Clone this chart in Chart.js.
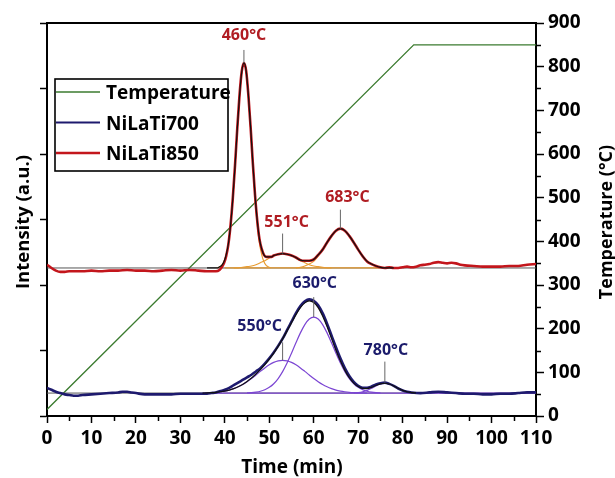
<!DOCTYPE html>
<html>
<head>
<meta charset="utf-8">
<script src="https://cdn.jsdelivr.net/npm/chart.js@4.4.1/dist/chart.umd.min.js"></script>
<style>
  html, body { margin: 0; padding: 0; background: #fff; }
  #wrap { width: 615px; height: 478px; }
</style>
</head>
<body>
<div id="wrap"><canvas id="tpr" width="615" height="478"></canvas></div>
<script>
// TPR profiles: time (min) vs intensity (a.u.), temperature programme on the right axis
const tempProgram = [[0, 15], [82.5, 850], [110, 850]];

const niLaTi850 = [
  [0,2.31],[1,2.26],[2,2.22],[3,2.20],[4,2.20],[5,2.21],[6,2.21],[8,2.21],[10,2.22],[12,2.21],
  [14,2.22],[16,2.22],[18,2.23],[20,2.22],[22,2.22],[24,2.21],[26,2.22],[28,2.23],[30,2.22],[32,2.23],
  [34,2.22],[36,2.21],[37,2.21],[38,2.21],[38.8,2.23],[39.3,2.27],[39.8,2.33],[40.3,2.44],[40.8,2.62],[41.3,2.92],
  [41.8,3.33],[42.3,3.83],[42.8,4.39],[43.3,4.89],[43.8,5.26],[44.3,5.39],[44.8,5.27],[45.3,4.90],[45.8,4.41],[46.3,3.86],
  [46.8,3.37],[47.3,2.98],[47.8,2.70],[48.3,2.55],[48.8,2.46],[49.3,2.43],[49.8,2.43],[50.5,2.43],[51,2.45],[52,2.47],
  [53,2.48],[54,2.47],[55,2.45],[56,2.42],[57,2.38],[58,2.37],[59,2.37],[60,2.39],[61,2.46],[62,2.54],
  [63,2.65],[64,2.75],[65,2.83],[66,2.86],[67,2.83],[68,2.75],[69,2.65],[70,2.54],[71,2.44],[72,2.36],
  [73,2.32],[74,2.29],[75,2.27],[76,2.26],[77,2.27],[78,2.26],[79,2.26],[80,2.27],[81,2.28],[82,2.27],
  [83,2.28],[84,2.30],[85,2.31],[86,2.32],[87,2.34],[88,2.35],[89,2.34],[90,2.33],[91,2.34],[92,2.33],
  [93,2.31],[94,2.30],[96,2.29],[98,2.28],[100,2.28],[102,2.28],[104,2.29],[106,2.29],[108,2.31],[110,2.32]
];

const niLaTi700 = [
  [0,0.43],[1,0.40],[2,0.37],[3,0.35],[4,0.33],[5,0.32],[6,0.31],[7,0.31],[8,0.32],[10,0.33],
  [12,0.34],[14,0.35],[16,0.36],[17,0.37],[18,0.37],[19,0.36],[20,0.35],[22,0.33],[24,0.33],[26,0.33],
  [28,0.33],[30,0.34],[32,0.34],[34,0.34],[36,0.34],[37,0.35],[38,0.36],[39,0.38],[40,0.40],[41,0.43],
  [42,0.47],[43,0.51],[44,0.55],[45,0.59],[46,0.63],[47,0.68],[48,0.73],[49,0.80],[50,0.88],[51,0.97],
  [52,1.07],[53,1.18],[54,1.31],[55,1.44],[56,1.57],[57,1.68],[58,1.75],[59,1.78],[60,1.76],[61,1.69],
  [62,1.57],[63,1.41],[64,1.23],[65,1.05],[66,0.88],[67,0.73],[68,0.61],[69,0.52],[70,0.46],[71,0.43],
  [72,0.43],[73,0.45],[74,0.48],[75,0.50],[76,0.51],[77,0.49],[78,0.46],[79,0.42],[80,0.39],[81,0.37],
  [82,0.36],[84,0.35],[86,0.36],[88,0.37],[90,0.36],[92,0.35],[94,0.34],[96,0.34],[98,0.33],[100,0.33],
  [102,0.34],[104,0.34],[106,0.35],[108,0.36],[110,0.36]
];

// deconvolution of NiLaTi850 (baseline 2.26)
const base850 = [[0,2.26],[110,2.26]];
const fitBase850 = [[40,2.26],[75,2.26]];
const fit850Sum = [
  [36,2.26],[38.3,2.26],[38.8,2.277],[39.3,2.30],[39.8,2.354],[40.3,2.46],[40.8,2.63],[41.3,2.92],[41.8,3.32],[42.3,3.82],
  [42.8,4.38],[43.3,4.88],[43.8,5.25],[44.3,5.39],[44.8,5.27],[45.3,4.90],[45.8,4.41],[46.3,3.86],[46.8,3.37],[47.3,2.98],
  [47.8,2.70],[48.3,2.55],[48.8,2.46],[49.3,2.43],[49.8,2.43],[50.5,2.43],[51,2.45],[52,2.47],[53,2.48],[54,2.47],
  [55,2.45],[56,2.42],[57,2.38],[58,2.37],[59,2.37],[60,2.39],[61,2.46],[62,2.54],[63,2.65],[64,2.75],
  [65,2.83],[66,2.86],[67,2.83],[68,2.75],[69,2.65],[70,2.54],[71,2.44],[72,2.36],[73,2.32],[74,2.29],
  [75,2.27],[76,2.26],[78,2.26]
];
const fit850Peak1 = [
  [38.3,2.26],[38.8,2.277],[39.3,2.30],[39.8,2.354],[40.3,2.46],[40.8,2.63],[41.3,2.92],[41.8,3.32],[42.3,3.82],[42.8,4.38],
  [43.3,4.88],[43.8,5.25],[44.3,5.38],[44.8,5.25],[45.3,4.88],[45.8,4.38],[46.3,3.82],[46.8,3.32],[47.3,2.92],[47.8,2.63],
  [48.3,2.46],[48.8,2.354],[49.3,2.30],[49.8,2.277],[50.3,2.26]
];
const fit850Peak2 = [
  [42,2.26],[43,2.26],[44,2.27],[45,2.28],[46,2.29],[47,2.31],[48,2.34],[49,2.37],[50,2.41],[51,2.45],
  [52,2.47],[53,2.48],[54,2.47],[55,2.45],[56,2.41],[57,2.37],[58,2.34],[59,2.31],[60,2.29],[61,2.28],
  [62,2.27],[63,2.26],[64,2.26]
];
const fit850Peak3 = [
  [56,2.26],[57,2.27],[58,2.29],[59,2.32],[60,2.36],[61,2.44],[62,2.54],[63,2.65],[64,2.75],[65,2.83],
  [66,2.86],[67,2.83],[68,2.75],[69,2.65],[70,2.54],[71,2.44],[72,2.36],[73,2.32],[74,2.29],[75,2.27],[76,2.26]
];

// deconvolution of NiLaTi700 (baseline 0.35)
const base700 = [[0,0.35],[110,0.35]];
const fitBase700 = [[38,0.35],[110,0.35]];
const fit700Sum = [
  [35,0.35],[36,0.354],[37,0.357],[38,0.362],[39,0.37],[40,0.381],[41,0.396],[42,0.418],[43,0.446],[44,0.481],
  [45,0.527],[46,0.579],[47,0.641],[48,0.709],[49,0.785],[50,0.869],[51,0.961],[52,1.064],[53,1.177],[54,1.300],
  [55,1.426],[56,1.548],[57,1.653],[58,1.727],[59,1.757],[60,1.732],[61,1.655],[62,1.527],[63,1.365],[64,1.185],
  [65,1.004],[66,0.839],[67,0.697],[68,0.584],[69,0.503],[70,0.45],[71,0.423],[72,0.42],[73,0.438],[74,0.466],
  [75,0.491],[76,0.50],[77,0.488],[78,0.459],[79,0.423],[80,0.392],[81,0.37],[82,0.358],[83,0.353]
];
const fit700Peak1 = [
  [35,0.35],[36,0.354],[37,0.357],[38,0.362],[39,0.37],[40,0.381],[41,0.396],[42,0.418],[43,0.446],[44,0.481],
  [45,0.524],[46,0.572],[47,0.626],[48,0.681],[49,0.734],[50,0.781],[51,0.818],[52,0.842],[53,0.850],[54,0.842],
  [55,0.818],[56,0.781],[57,0.734],[58,0.681],[59,0.626],[60,0.572],[61,0.524],[62,0.481],[63,0.446],[64,0.418],
  [65,0.396],[66,0.381],[67,0.37],[68,0.362],[69,0.357],[70,0.354],[71,0.352],[72,0.35]
];
const fit700Peak2 = [
  [45,0.353],[46,0.357],[47,0.365],[48,0.378],[49,0.401],[50,0.438],[51,0.493],[52,0.572],[53,0.677],[54,0.808],
  [55,0.958],[56,1.117],[57,1.269],[58,1.396],[59,1.481],[60,1.510],[61,1.481],[62,1.396],[63,1.269],[64,1.117],
  [65,0.958],[66,0.808],[67,0.677],[68,0.572],[69,0.493],[70,0.438],[71,0.401],[72,0.378],[73,0.365],[74,0.357],[75,0.353]
];
const fit700Peak3 = [
  [69,0.353],[70,0.358],[71,0.37],[72,0.392],[73,0.423],[74,0.459],[75,0.488],[76,0.50],[77,0.488],[78,0.459],
  [79,0.423],[80,0.392],[81,0.37],[82,0.358],[83,0.353]
];

// peak maxima labels
const peakLabels850 = ['460°C', '551°C', '683°C'];
const peakTimes850 = [44.3, 53, 66];
const peakTops850 = [5.39, 2.48, 2.86];
const peakLabels700 = ['550°C', '630°C', '780°C'];
const peakTimes700 = [53, 60, 76];
const peakTops700 = [0.85, 1.51, 0.51];

// marker stem length / label offsets, px
const markStyle850 = [{len: 13, dx: 0, gap: 14.5}, {len: 20, dx: 4, gap: 11}, {len: 19, dx: 7, gap: 12.5}];
const markStyle700 = [{len: 18, dx: -23, gap: 16}, {len: 20, dx: 1, gap: 13.5}, {len: 21, dx: 1, gap: 11.5}];

const FONT = '"Open Sans", "DejaVu Sans", sans-serif';
const RED = '#c3161c';
const NAVY = '#1e1a6e';
const GREEN = '#3b7b2f';
const ORANGE = '#e89b2e';
const PURPLE = '#7b45d3';

const pts = arr => arr.map(([x, y]) => ({x, y}));

function line(data, color, width, axis) {
  return {
    data: pts(data),
    borderColor: color,
    backgroundColor: color,
    borderWidth: width,
    pointRadius: 0,
    fill: false,
    cubicInterpolationMode: 'monotone',
    yAxisID: axis || 'y'
  };
}

// first dataset is painted on top
const datasets = [
  line(fit850Sum, '#111', 1.2),
  line(fit700Sum, '#111', 1.2),
  Object.assign(line(niLaTi850, RED, 2.6), {label: 'NiLaTi850'}),
  Object.assign(line(niLaTi700, NAVY, 2.6), {label: 'NiLaTi700'}),
  line(fit850Peak1, ORANGE, 1.1),
  line(fit850Peak2, ORANGE, 1.1),
  line(fit850Peak3, ORANGE, 1.1),
  line(fitBase850, ORANGE, 1.2),
  line(fit700Peak1, PURPLE, 1.2),
  line(fit700Peak2, PURPLE, 1.2),
  line(fit700Peak3, PURPLE, 1.2),
  line(fitBase700, PURPLE, 1.2),
  line(base850, '#555', 1),
  line(base700, '#555', 1),
  Object.assign(line(tempProgram, GREEN, 1.3, 'yT'), {label: 'Temperature', cubicInterpolationMode: 'default', tension: 0})
];

const legendItems = [
  {text: 'Temperature', color: GREEN, width: 1.5},
  {text: 'NiLaTi700', color: NAVY, width: 2},
  {text: 'NiLaTi850', color: RED, width: 2.5}
];

const decorations = {
  id: 'decorations',
  afterDatasetsDraw(chart) {
    const {ctx, scales: {x, y}} = chart;
    ctx.save();
    ctx.font = 'bold 16px ' + FONT;
    ctx.textAlign = 'center';
    ctx.textBaseline = 'middle';
    const marks = (labels, times, tops, style, color) => {
      labels.forEach((lab, i) => {
        const px = x.getPixelForValue(times[i]);
        const py = y.getPixelForValue(tops[i]);
        const s = style[i];
        ctx.strokeStyle = '#666';
        ctx.lineWidth = 1;
        ctx.beginPath();
        ctx.moveTo(px, py);
        ctx.lineTo(px, py - s.len);
        ctx.stroke();
        ctx.fillStyle = color;
        ctx.fillText(lab, px + s.dx, py - s.len - s.gap);
      });
    };
    marks(peakLabels850, peakTimes850, peakTops850, markStyle850, '#b01c22');
    marks(peakLabels700, peakTimes700, peakTops700, markStyle700, '#1b1b6b');
    ctx.restore();
  },
  afterDraw(chart) {
    const {ctx, chartArea: a, scales: {x, yT}} = chart;
    ctx.save();
    ctx.strokeStyle = '#000';

    // frame top edge
    ctx.lineWidth = 2;
    ctx.beginPath();
    ctx.moveTo(a.left - 1, a.top);
    ctx.lineTo(a.right + 1, a.top);
    ctx.stroke();

    // minor ticks
    ctx.lineWidth = 1.5;
    ctx.beginPath();
    for (let v = 5; v < 110; v += 10) {
      const px = Math.round(x.getPixelForValue(v)) + 0.5;
      ctx.moveTo(px, a.bottom);
      ctx.lineTo(px, a.bottom + 5);
    }
    for (let v = 50; v < 900; v += 100) {
      const py = Math.round(yT.getPixelForValue(v)) + 0.5;
      ctx.moveTo(a.right, py);
      ctx.lineTo(a.right + 5, py);
    }
    ctx.stroke();

    // axis titles
    ctx.fillStyle = '#000';
    ctx.textAlign = 'center';
    ctx.textBaseline = 'alphabetic';
    ctx.font = 'bold 19px ' + FONT;
    ctx.fillText('Time (min)', 292, 473);

    ctx.textBaseline = 'middle';
    ctx.font = 'bold 18.5px ' + FONT;
    ctx.save();
    ctx.translate(24, 222);
    ctx.rotate(-Math.PI / 2);
    ctx.fillText('Intensity (a.u.)', 0, 0);
    ctx.restore();

    ctx.font = 'bold 18px ' + FONT;
    ctx.save();
    ctx.translate(607, 222);
    ctx.rotate(-Math.PI / 2);
    ctx.fillText('Temperature (°C)', 0, 0);
    ctx.restore();

    // legend box
    const lx = a.left + 8, ly = a.top + 56, lw = 173, lh = 92;
    ctx.fillStyle = '#fff';
    ctx.fillRect(lx, ly, lw, lh);
    ctx.lineWidth = 1.6;
    ctx.strokeStyle = '#000';
    ctx.strokeRect(lx, ly, lw, lh);
    ctx.font = 'bold 19px ' + FONT;
    ctx.textAlign = 'left';
    ctx.textBaseline = 'alphabetic';
    legendItems.forEach((it, i) => {
      const rowY = ly + 20 + i * 30.5;
      ctx.strokeStyle = it.color;
      ctx.lineWidth = it.width;
      ctx.beginPath();
      ctx.moveTo(lx + 1, rowY - 7);
      ctx.lineTo(lx + 45, rowY - 7);
      ctx.stroke();
      ctx.fillStyle = '#000';
      ctx.fillText(it.text, lx + 51, rowY);
    });
    ctx.restore();
  }
};

Chart.defaults.font.family = FONT;
Chart.defaults.color = '#000';

new Chart(document.getElementById('tpr'), {
  type: 'line',
  data: {datasets},
  options: {
    responsive: false,
    animation: false,
    devicePixelRatio: 1,
    layout: {padding: {top: 23, left: 0, right: 0, bottom: 0}},
    plugins: {legend: {display: false}, tooltip: {enabled: false}},
    scales: {
      x: {
        type: 'linear',
        min: 0,
        max: 110,
        ticks: {stepSize: 10, padding: 4, font: {size: 19, weight: 'bold'}, color: '#000'},
        grid: {drawOnChartArea: false, tickLength: 7, tickWidth: 1.5, tickColor: '#000'},
        border: {color: '#000', width: 2},
        afterFit: s => { s.height = 62; }
      },
      y: {
        position: 'left',
        min: 0,
        max: 6,
        ticks: {stepSize: 1, display: false},
        grid: {drawOnChartArea: false, tickLength: 7, tickWidth: 1.5, tickColor: '#000'},
        border: {color: '#000', width: 2},
        afterFit: s => { s.width = 47; }
      },
      yT: {
        position: 'right',
        min: 0,
        max: 900,
        ticks: {stepSize: 100, padding: 4, font: {size: 19, weight: 'bold'}, color: '#000'},
        grid: {drawOnChartArea: false, tickLength: 8, tickWidth: 1.5, tickColor: '#000'},
        border: {color: '#000', width: 2},
        afterFit: s => { s.width = 79; }
      }
    }
  },
  plugins: [decorations]
});
</script>
</body>
</html>
